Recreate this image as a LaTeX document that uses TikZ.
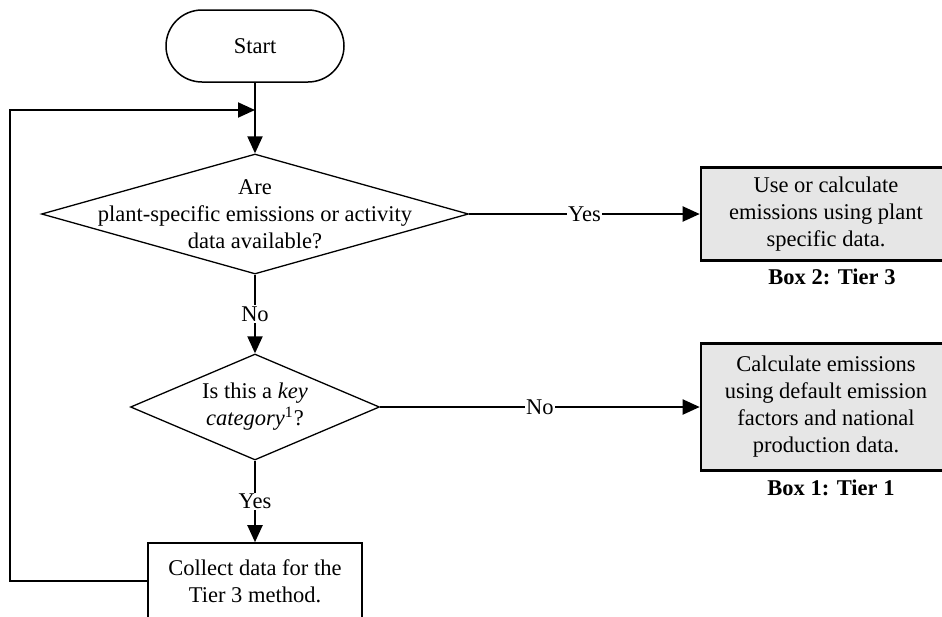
\documentclass[tikz,border=0pt]{standalone}
\usepackage{fontspec}
\setmainfont{Liberation Serif}
\usepackage{xcolor}
\usepackage{tikz}
\usetikzlibrary{arrows.meta}
\usetikzlibrary{shapes.geometric}
\definecolor{boxgrey}{RGB}{230,230,230}
\tikzset{
    tnode/.style = {align=center, inner sep=0pt, text centered, font=\fontsize{11.25}{13.5}\selectfont},
    start_node/.style = {tnode, rectangle, rounded corners=18pt, draw=black, line width=0.75pt, minimum width=89pt, minimum height=36pt},
    dec_node/.style = {tnode, diamond, draw=black, line width=0.65pt},
    grey_box/.style = {tnode, rectangle, draw=black, fill=boxgrey, line width=1.3pt, minimum width=125pt},
    white_box/.style = {tnode, rectangle, draw=black, fill=white, line width=0.8pt, minimum width=107pt, minimum height=38pt},
    box_label/.style = {tnode, font=\fontsize{11.25}{13.5}\selectfont\bfseries},
    ans/.style = {tnode, fill=white, inner sep=0.6pt},
    flow/.style = {-{Triangle[length=8.5pt,width=7.5pt]}, line width=1pt}
}
\begin{document}
\begin{tikzpicture}[x=0.5pt, y=-0.5pt]
            \clip (0,0) rectangle (942,616);

            \node [start_node] (start) at (255,46) {Start};
            \node [dec_node, minimum width=213.5pt, minimum height=60pt,
                label={[tnode]center:{Are\\plant-specific emissions or activity\\data available?}}] (q1) at (255,214) {};
            \node [dec_node, minimum width=124.5pt, minimum height=53pt,
                label={[tnode]center:{Is this a \textit{key}\\\textit{category}\textsuperscript{1}?}}] (q2) at (255,407) {};
            \node [white_box] (collect) at (255,581) {Collect data for the\\Tier 3 method.};
            \node [grey_box, minimum height=46.5pt] (box2) at (826,214) {Use or calculate\\emissions using plant\\specific data.};
            \node [grey_box, minimum height=63.5pt] (box1) at (826,407) {Calculate emissions\\using default emission\\factors and national\\production data.};
            \node [box_label] (lab2) at (832,277) {Box 2: Tier 3};
            \node [box_label] (lab1) at (831,488) {Box 1: Tier 1};

            \coordinate (loop_top) at (10,110);
            \coordinate (loop_bot) at (10,581);

            \draw [flow] (start) -- (q1);
            \draw [flow] (q1) -- node [ans] {No} (q2);
            \draw [flow] (q2) -- node [ans] {Yes} (collect);
            \draw [flow] (q1.east) -- node [ans] {Yes} (q1.east -| box2.west);
            \draw [flow] (q2.east) -- node [ans] {No} (q2.east -| box1.west);
            \draw [flow] (collect.west) -- (loop_bot) -- (loop_top) -- (start.south |- loop_top);
        \end{tikzpicture}
\end{document}
